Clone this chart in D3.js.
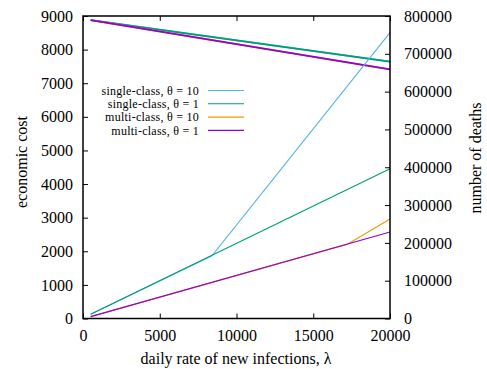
<!DOCTYPE html>
<html>
<head>
<meta charset="utf-8">
<script src="https://cdn.jsdelivr.net/npm/d3@7"></script>
<style>
  body { margin: 0; background: #fff; }
</style>
</head>
<body>
<svg id="chart" width="487" height="369"></svg>
<script>
// Daily infection rate (λ) breakpoints
const lambdaCost = [500, 20000];
// Economic cost (left axis)
const costSingle = [8880, 7640];
const costMulti = [8880, 7410];

// Number of deaths (right axis), piecewise-linear in λ
const lambdaSingle10 = [500, 8400, 20000];
const deathsSingle10 = [11000, 166000, 756000];
const lambdaSingle1 = [500, 20000];
const deathsSingle1 = [11000, 396000];
const lambdaMulti10 = [500, 17200, 20000];
const deathsMulti10 = [5000, 196000, 263000];
const lambdaMulti1 = [500, 20000];
const deathsMulti1 = [5000, 229000];

const seriesNames = ["single-class, θ = 10", "single-class, θ = 1", "multi-class, θ = 10", "multi-class, θ = 1"];
const seriesColors = ["#56b4e9", "#009e73", "#e69f00", "#9400d3"];

const xTicks = [0, 5000, 10000, 15000, 20000];
const yTicks = [0, 1000, 2000, 3000, 4000, 5000, 6000, 7000, 8000, 9000];
const y2Ticks = [0, 100000, 200000, 300000, 400000, 500000, 600000, 700000, 800000];

const FONT = "'Liberation Serif', 'Times New Roman', Times, serif";
const svg = d3.select("#chart");
const m = { left: 83, right: 390, top: 16, bottom: 318.5 };

const x = d3.scaleLinear().domain([0, 20000]).range([m.left, m.right]);
const y = d3.scaleLinear().domain([0, 9000]).range([m.bottom, m.top]);
const y2 = d3.scaleLinear().domain([0, 800000]).range([m.bottom, m.top]);

const fs = 16;
const styleText = g => g.selectAll("text")
  .style("font-family", FONT).style("font-size", fs + "px").attr("fill", "#000");

// Axes with inward ticks
const tick = 5;
svg.append("g").attr("transform", `translate(0,${m.bottom})`)
  .call(d3.axisBottom(x).tickValues(xTicks).tickSizeInner(-tick).tickSizeOuter(0).tickPadding(11).tickFormat(d3.format("d")))
  .call(g => g.select(".domain").remove())
  .call(styleText);
svg.append("g").attr("transform", `translate(0,${m.top})`)
  .call(d3.axisTop(x).tickValues(xTicks).tickSizeInner(-tick).tickSizeOuter(0).tickFormat(""))
  .call(g => g.select(".domain").remove());
svg.append("g").attr("transform", `translate(${m.left},0)`)
  .call(d3.axisLeft(y).tickValues(yTicks).tickSizeInner(-tick).tickSizeOuter(0).tickPadding(10).tickFormat(d3.format("d")))
  .call(g => g.select(".domain").remove())
  .call(styleText);
svg.append("g").attr("transform", `translate(${m.right},0)`)
  .call(d3.axisRight(y2).tickValues(y2Ticks).tickSizeInner(-tick).tickSizeOuter(0).tickPadding(14).tickFormat(d3.format("d")))
  .call(g => g.select(".domain").remove())
  .call(styleText);
svg.selectAll(".tick line").attr("stroke", "#000").attr("stroke-width", 1);

// Series lines
const line = (ys) => d3.line().x(d => x(d[0])).y(d => ys(d[1]));
const plot = (xs, vs, ys, color, w) => {
  svg.append("path")
    .datum(xs.map((v, i) => [v, vs[i]]))
    .attr("fill", "none").attr("stroke", color).attr("stroke-width", w)
    .attr("d", line(ys));
};
// cost curves (θ does not change cost, so pairs coincide)
plot(lambdaCost, costSingle, y, seriesColors[0], 1.8);
plot(lambdaCost, costSingle, y, seriesColors[1], 1.8);
plot(lambdaCost, costMulti, y, seriesColors[2], 1.8);
plot(lambdaCost, costMulti, y, seriesColors[3], 1.8);
// death curves
plot(lambdaSingle10, deathsSingle10, y2, seriesColors[0], 1.1);
plot(lambdaSingle1, deathsSingle1, y2, seriesColors[1], 1.1);
plot(lambdaMulti10, deathsMulti10, y2, seriesColors[2], 1.1);
plot(lambdaMulti1, deathsMulti1, y2, seriesColors[3], 1.1);

// Frame
svg.append("rect").attr("x", m.left).attr("y", m.top)
  .attr("width", m.right - m.left).attr("height", m.bottom - m.top)
  .attr("fill", "none").attr("stroke", "#000").attr("stroke-width", 1.5);

// Legend
const leg = svg.append("g");
seriesNames.forEach((name, i) => {
  const yy = 90.5 + i * 13.3;
  leg.append("text").attr("x", 199).attr("y", yy).attr("dy", "0.35em")
    .attr("text-anchor", "end").style("font-family", FONT).style("font-size", "12px")
    .style("letter-spacing", "0.25px").text(name);
  leg.append("line").attr("x1", 208).attr("x2", 244).attr("y1", yy).attr("y2", yy)
    .attr("stroke", seriesColors[i]).attr("stroke-width", 1.1);
});

// Axis titles
svg.append("text").attr("x", 236).attr("y", 364).attr("text-anchor", "middle")
  .style("font-family", FONT).style("font-size", fs + "px").text("daily rate of new infections, λ");
svg.append("text").attr("transform", "translate(21,162) rotate(-90)").attr("dy", "0.35em")
  .attr("text-anchor", "middle").style("font-family", FONT).style("font-size", fs + "px").text("economic cost");
svg.append("text").attr("transform", "translate(475,158) rotate(-90)").attr("dy", "0.35em")
  .attr("text-anchor", "middle").style("font-family", FONT).style("font-size", fs + "px").text("number of deaths");
</script>
</body>
</html>
